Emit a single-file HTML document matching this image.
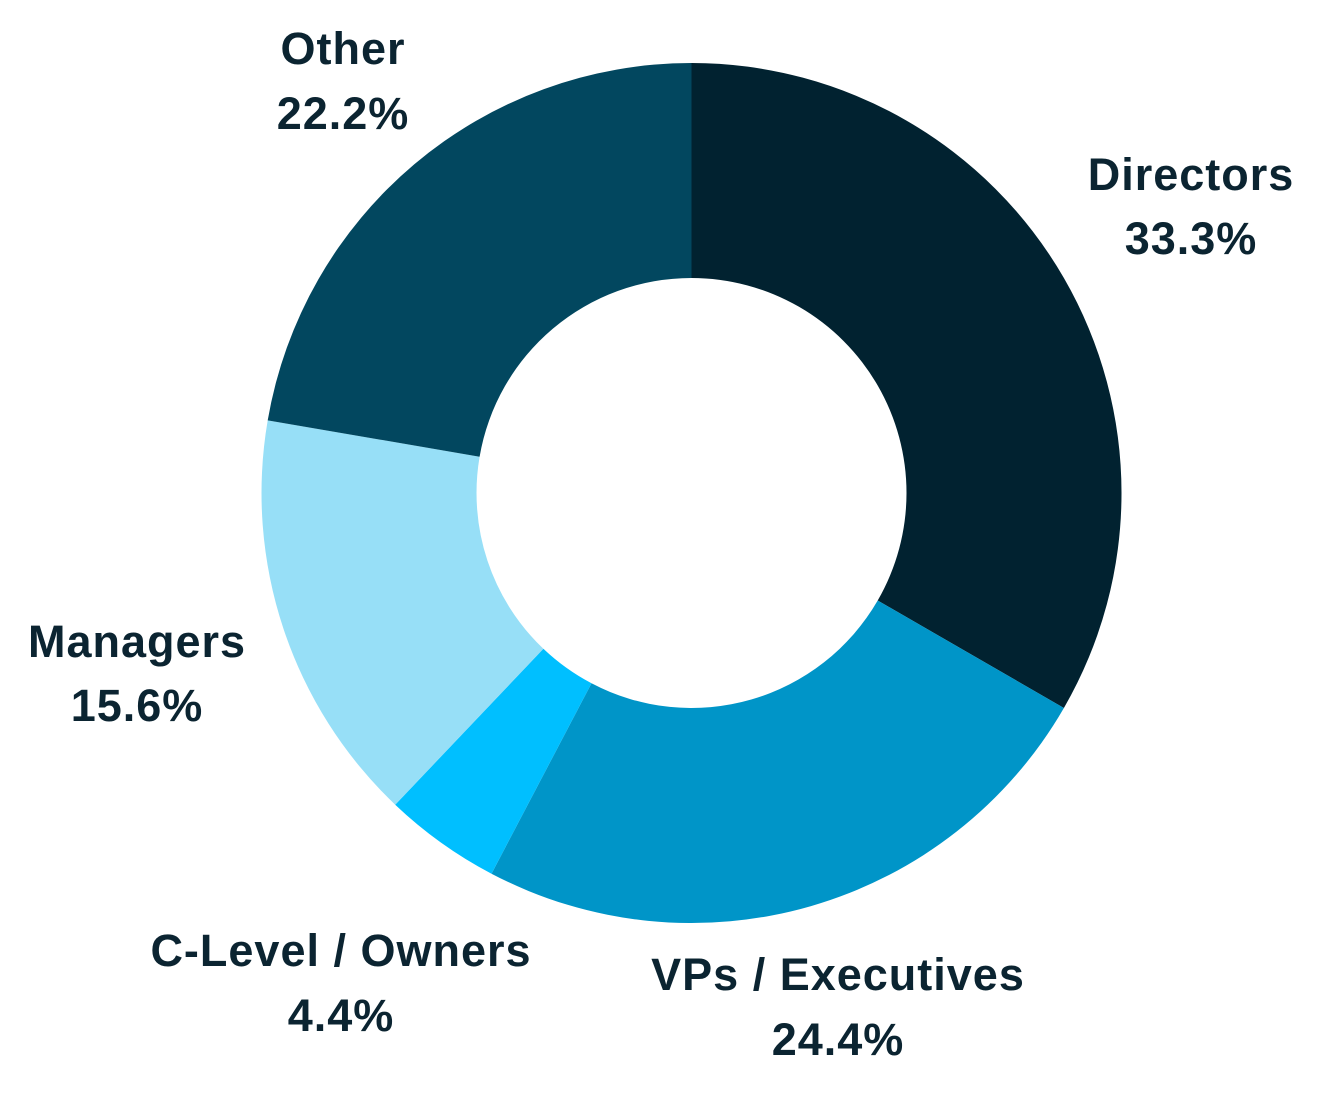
<!DOCTYPE html>
<html><head><meta charset="utf-8"><style>
html,body{margin:0;padding:0;background:#fff;}
text{font-family:"Liberation Sans",sans-serif;font-weight:bold;font-size:45px;letter-spacing:1px;fill:#0b2431;text-anchor:middle;}
</style></head><body>
<svg width="1321" height="1088" viewBox="0 0 1321 1088" xmlns="http://www.w3.org/2000/svg">
<path d="M691.5,63 A430,430 0 0 1 1063.9,708 L877.7,600.5 A215,215 0 0 0 691.5,278 Z" fill="#012230"/>
<path d="M1063.9,708 A430,430 0 0 1 491.5,873.7 L591.5,683.3 A215,215 0 0 0 877.7,600.5 Z" fill="#0095c8"/>
<path d="M491.5,873.7 A430,430 0 0 1 395.2,804.7 L543.4,648.8 A215,215 0 0 0 591.5,683.3 Z" fill="#00bfff"/>
<path d="M395.2,804.7 A430,430 0 0 1 267.7,420.4 L479.6,456.7 A215,215 0 0 0 543.4,648.8 Z" fill="#97dff7"/>
<path d="M267.7,420.4 A430,430 0 0 1 691.5,63 L691.5,278 A215,215 0 0 0 479.6,456.7 Z" fill="#02475f"/>
<text x="343" y="64">Other</text><text x="343" y="129">22.2%</text>
<text x="1191" y="190">Directors</text><text x="1191" y="254">33.3%</text>
<text x="137" y="657">Managers</text><text x="137" y="721">15.6%</text>
<text x="341" y="966">C-Level / Owners</text><text x="341" y="1031">4.4%</text>
<text x="838" y="990">VPs / Executives</text><text x="838" y="1055">24.4%</text>
</svg>
</body></html>
